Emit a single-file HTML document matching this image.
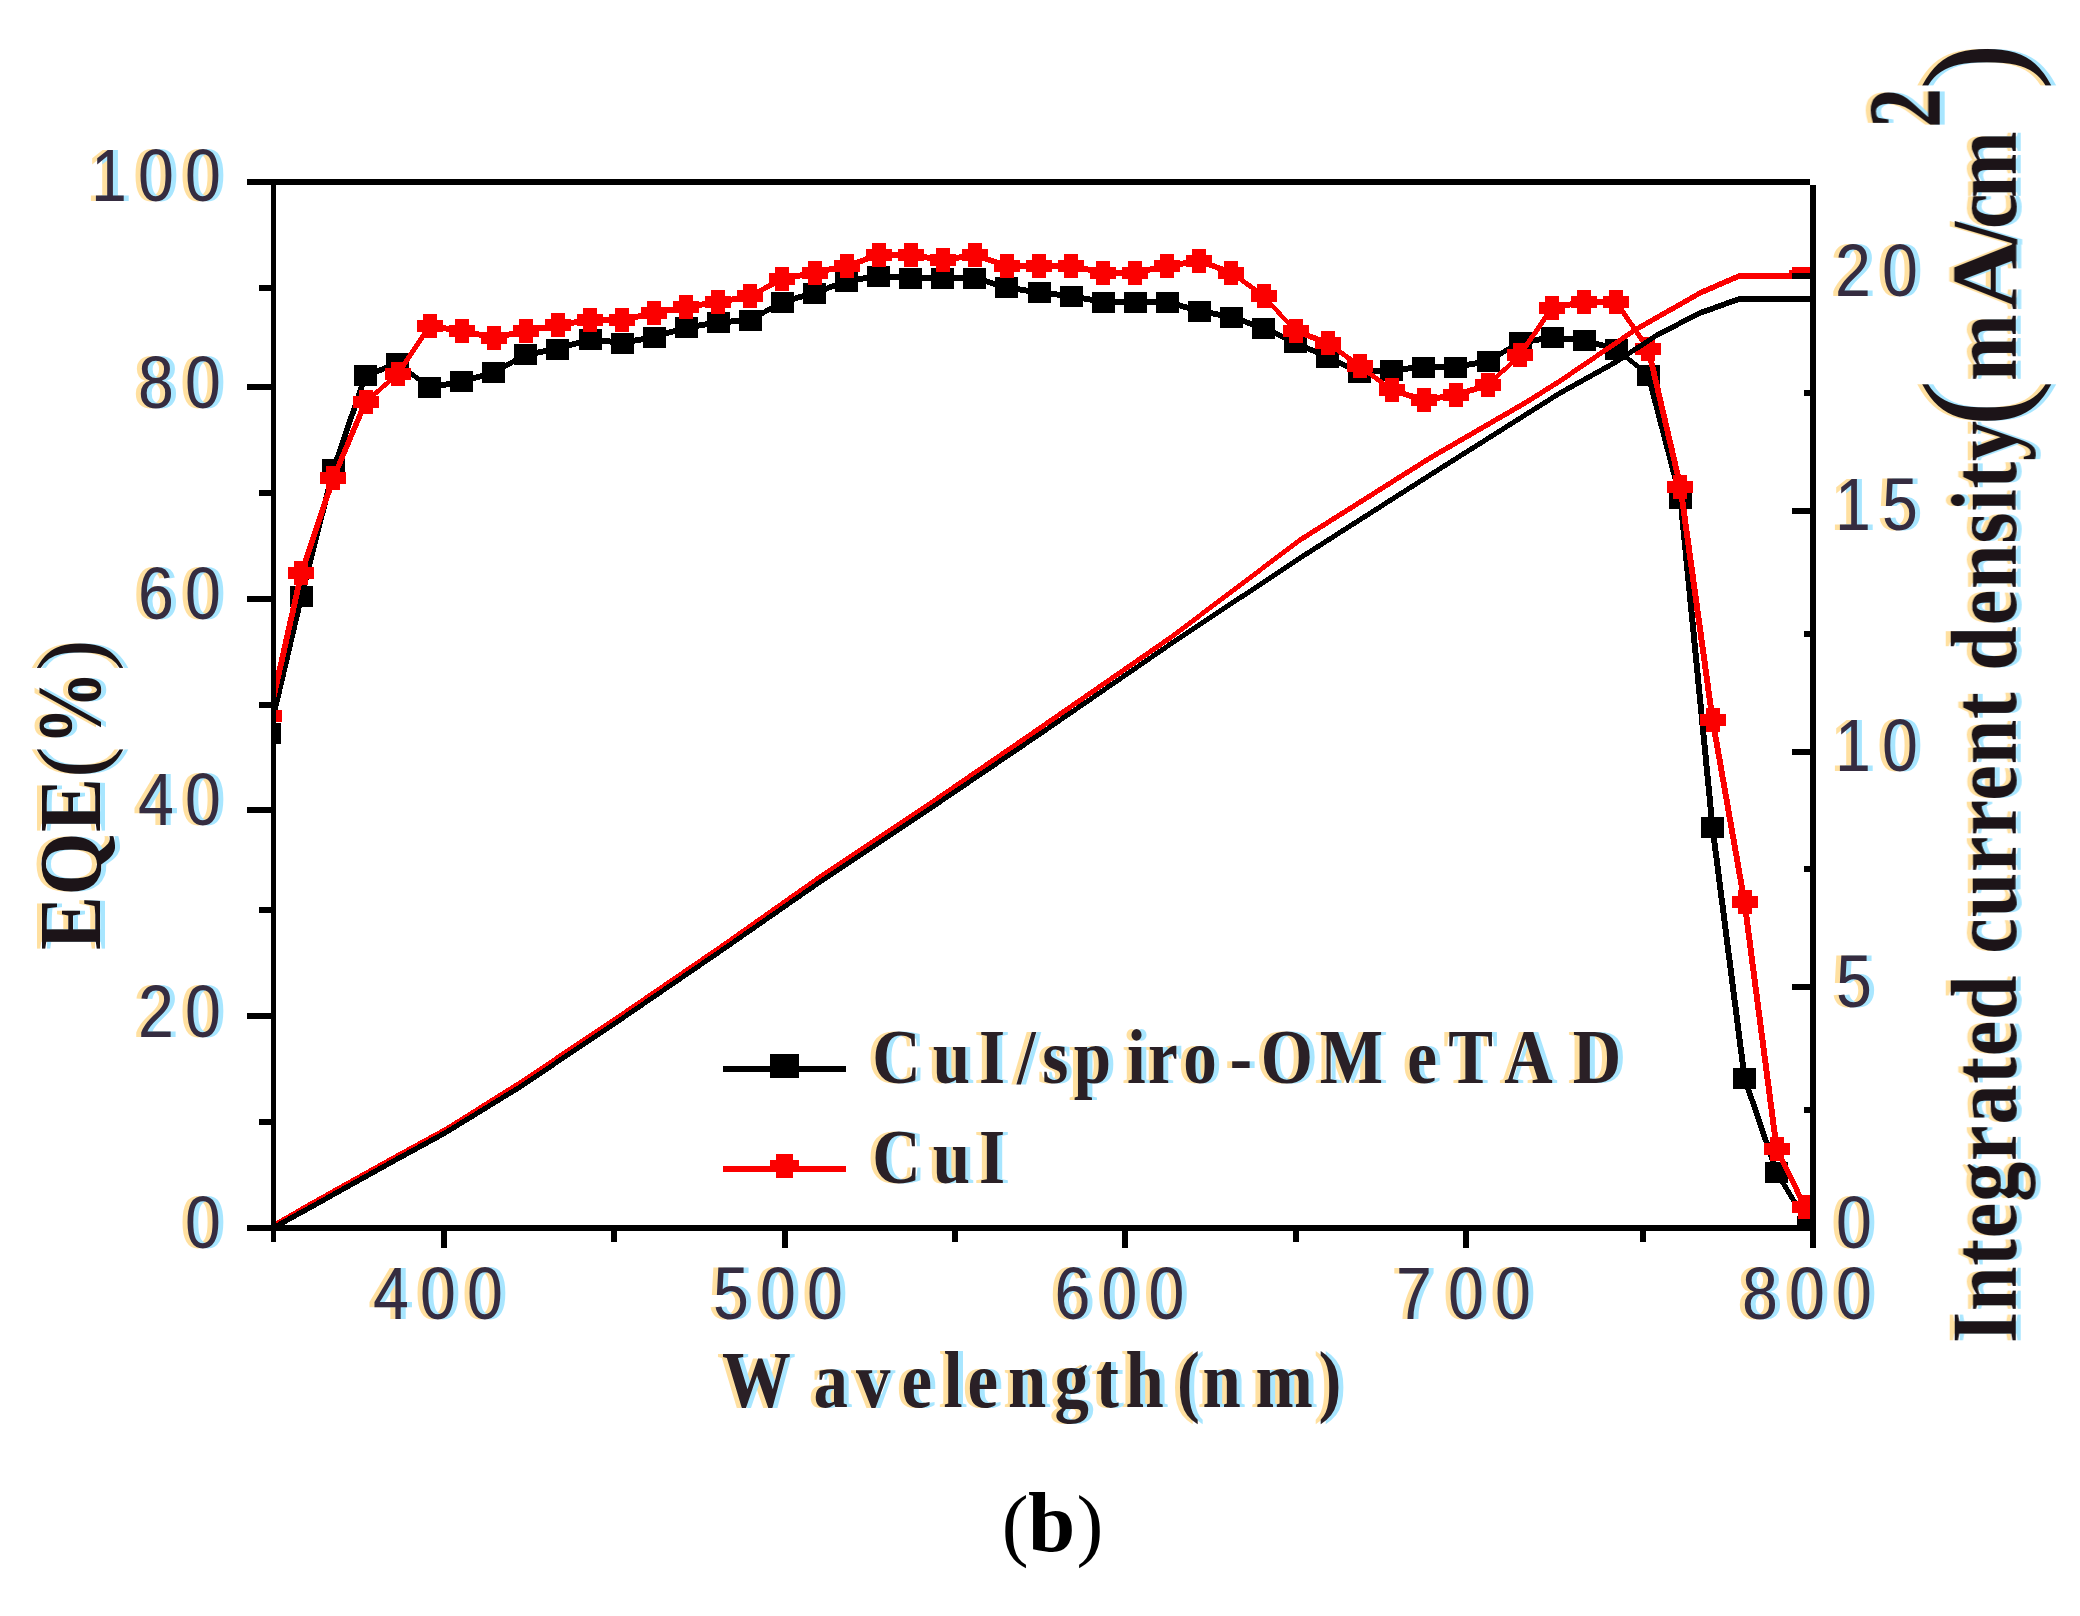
<!DOCTYPE html>
<html lang="en"><head><meta charset="utf-8"><title>EQE and integrated current density (b)</title>
<style>
html,body{margin:0;padding:0;background:#fff;}
body{width:2080px;height:1616px;overflow:hidden;}
svg{display:block;}
.tick{font-family:"Liberation Sans",sans-serif;font-size:75px;fill:#352c40;}
.ser{font-family:"Liberation Serif",serif;font-weight:bold;fill:#1c1418;}
.hz{fill:#2a2026;}
.cap{font-family:"Liberation Serif",serif;fill:#000;}
</style></head><body>
<svg width="2080" height="1616" viewBox="0 0 2080 1616">
<rect x="0" y="0" width="2080" height="1616" fill="#fff"/>
<defs><filter id="ct" x="-6%" y="-6%" width="112%" height="112%" color-interpolation-filters="sRGB"><feFlood flood-color="#ffe0a0" result="w"/><feComposite in="w" in2="SourceAlpha" operator="in" result="wm"/><feOffset in="wm" dx="-5" dy="0" result="wo"/><feFlood flood-color="#a8e6ff" result="c"/><feComposite in="c" in2="SourceAlpha" operator="in" result="cm"/><feOffset in="cm" dx="5" dy="0" result="co"/><feMerge><feMergeNode in="wo"/><feMergeNode in="co"/><feMergeNode in="SourceGraphic"/></feMerge></filter></defs>
<defs><clipPath id="plot"><rect x="273" y="182" width="1540" height="1046"/></clipPath></defs>
<g shape-rendering="crispEdges" clip-path="url(#plot)">
<path fill="#000" d="M266.3 733.0L298.4 596.0L304.4 596.0L272.3 733.0ZM298.4 596.0L330.4 469.5L336.4 469.5L304.4 596.0ZM330.4 469.5L362.5 375.5L368.5 375.5L336.4 469.5ZM365.5 372.5L397.6 360.5L397.6 366.5L365.5 378.5ZM397.6 360.5L429.6 384.5L429.6 390.5L397.6 366.5ZM429.6 384.5L461.7 378.5L461.7 384.5L429.6 390.5ZM461.7 378.5L493.8 369.5L493.8 375.5L461.7 384.5ZM493.8 369.5L525.9 351.5L525.9 357.5L493.8 375.5ZM525.9 351.5L557.9 346.0L557.9 352.0L525.9 357.5ZM557.9 346.0L590.0 336.0L590.0 342.0L557.9 352.0ZM590.0 336.0L622.1 340.0L622.1 346.0L590.0 342.0ZM622.1 340.0L654.1 334.0L654.1 340.0L622.1 346.0ZM654.1 334.0L686.2 324.5L686.2 330.5L654.1 340.0ZM686.2 324.5L718.3 319.5L718.3 325.5L686.2 330.5ZM718.3 319.5L750.4 317.0L750.4 323.0L718.3 325.5ZM750.4 317.0L782.4 299.0L782.4 305.0L750.4 323.0ZM782.4 299.0L814.5 290.0L814.5 296.0L782.4 305.0ZM814.5 290.0L846.6 278.0L846.6 284.0L814.5 296.0ZM846.6 278.0L878.6 273.0L878.6 279.0L846.6 284.0ZM878.6 273.0L910.7 275.0L910.7 281.0L878.6 279.0ZM910.7 275.0L942.8 275.0L942.8 281.0L910.7 281.0ZM942.8 275.0L974.8 275.0L974.8 281.0L942.8 281.0ZM974.8 275.0L1006.9 284.5L1006.9 290.5L974.8 281.0ZM1006.9 284.5L1039.0 289.5L1039.0 295.5L1006.9 290.5ZM1039.0 289.5L1071.0 293.0L1071.0 299.0L1039.0 295.5ZM1071.0 293.0L1103.1 299.0L1103.1 305.0L1071.0 299.0ZM1103.1 299.0L1135.2 299.0L1135.2 305.0L1103.1 305.0ZM1135.2 299.0L1167.3 299.0L1167.3 305.0L1135.2 305.0ZM1167.3 299.0L1199.3 308.0L1199.3 314.0L1167.3 305.0ZM1199.3 308.0L1231.4 314.0L1231.4 320.0L1199.3 314.0ZM1231.4 314.0L1263.5 325.0L1263.5 331.0L1231.4 320.0ZM1263.5 325.0L1295.5 339.5L1295.5 345.5L1263.5 331.0ZM1295.5 339.5L1327.6 354.5L1327.6 360.5L1295.5 345.5ZM1327.6 354.5L1359.7 369.0L1359.7 375.0L1327.6 360.5ZM1359.7 369.0L1391.8 367.0L1391.8 373.0L1359.7 375.0ZM1391.8 367.0L1423.8 364.0L1423.8 370.0L1391.8 373.0ZM1423.8 364.0L1455.9 364.0L1455.9 370.0L1423.8 370.0ZM1455.9 364.0L1488.0 358.0L1488.0 364.0L1455.9 370.0ZM1488.0 358.0L1520.0 339.5L1520.0 345.5L1488.0 364.0ZM1520.0 339.5L1552.1 334.5L1552.1 340.5L1520.0 345.5ZM1552.1 334.5L1584.2 337.4L1584.2 343.4L1552.1 340.5ZM1584.2 337.4L1616.2 346.0L1616.2 352.0L1584.2 343.4ZM1616.2 346.0L1648.3 372.0L1648.3 378.0L1616.2 352.0ZM1645.3 375.0L1677.4 498.0L1683.4 498.0L1651.3 375.0ZM1677.4 498.0L1709.5 827.0L1715.5 827.0L1683.4 498.0ZM1709.5 827.0L1741.5 1078.0L1747.5 1078.0L1715.5 827.0ZM1741.5 1078.0L1773.6 1172.0L1779.6 1172.0L1747.5 1078.0ZM1773.6 1172.0L1805.7 1226.0L1811.7 1226.0L1779.6 1172.0Z"/>
<rect x="257.8" y="722.5" width="23" height="21" fill="#000"/>
<rect x="289.9" y="585.5" width="23" height="21" fill="#000"/>
<rect x="321.9" y="459.0" width="23" height="21" fill="#000"/>
<rect x="354.0" y="365.0" width="23" height="21" fill="#000"/>
<rect x="386.1" y="353.0" width="23" height="21" fill="#000"/>
<rect x="418.1" y="377.0" width="23" height="21" fill="#000"/>
<rect x="450.2" y="371.0" width="23" height="21" fill="#000"/>
<rect x="482.3" y="362.0" width="23" height="21" fill="#000"/>
<rect x="514.4" y="344.0" width="23" height="21" fill="#000"/>
<rect x="546.4" y="338.5" width="23" height="21" fill="#000"/>
<rect x="578.5" y="328.5" width="23" height="21" fill="#000"/>
<rect x="610.6" y="332.5" width="23" height="21" fill="#000"/>
<rect x="642.6" y="326.5" width="23" height="21" fill="#000"/>
<rect x="674.7" y="317.0" width="23" height="21" fill="#000"/>
<rect x="706.8" y="312.0" width="23" height="21" fill="#000"/>
<rect x="738.9" y="309.5" width="23" height="21" fill="#000"/>
<rect x="770.9" y="291.5" width="23" height="21" fill="#000"/>
<rect x="803.0" y="282.5" width="23" height="21" fill="#000"/>
<rect x="835.1" y="270.5" width="23" height="21" fill="#000"/>
<rect x="867.1" y="265.5" width="23" height="21" fill="#000"/>
<rect x="899.2" y="267.5" width="23" height="21" fill="#000"/>
<rect x="931.3" y="267.5" width="23" height="21" fill="#000"/>
<rect x="963.3" y="267.5" width="23" height="21" fill="#000"/>
<rect x="995.4" y="277.0" width="23" height="21" fill="#000"/>
<rect x="1027.5" y="282.0" width="23" height="21" fill="#000"/>
<rect x="1059.5" y="285.5" width="23" height="21" fill="#000"/>
<rect x="1091.6" y="291.5" width="23" height="21" fill="#000"/>
<rect x="1123.7" y="291.5" width="23" height="21" fill="#000"/>
<rect x="1155.8" y="291.5" width="23" height="21" fill="#000"/>
<rect x="1187.8" y="300.5" width="23" height="21" fill="#000"/>
<rect x="1219.9" y="306.5" width="23" height="21" fill="#000"/>
<rect x="1252.0" y="317.5" width="23" height="21" fill="#000"/>
<rect x="1284.0" y="332.0" width="23" height="21" fill="#000"/>
<rect x="1316.1" y="347.0" width="23" height="21" fill="#000"/>
<rect x="1348.2" y="361.5" width="23" height="21" fill="#000"/>
<rect x="1380.2" y="359.5" width="23" height="21" fill="#000"/>
<rect x="1412.3" y="356.5" width="23" height="21" fill="#000"/>
<rect x="1444.4" y="356.5" width="23" height="21" fill="#000"/>
<rect x="1476.5" y="350.5" width="23" height="21" fill="#000"/>
<rect x="1508.5" y="332.0" width="23" height="21" fill="#000"/>
<rect x="1540.6" y="327.0" width="23" height="21" fill="#000"/>
<rect x="1572.7" y="329.9" width="23" height="21" fill="#000"/>
<rect x="1604.7" y="338.5" width="23" height="21" fill="#000"/>
<rect x="1636.8" y="364.5" width="23" height="21" fill="#000"/>
<rect x="1668.9" y="487.5" width="23" height="21" fill="#000"/>
<rect x="1701.0" y="816.5" width="23" height="21" fill="#000"/>
<rect x="1733.0" y="1067.5" width="23" height="21" fill="#000"/>
<rect x="1765.1" y="1161.5" width="23" height="21" fill="#000"/>
<rect x="1797.2" y="1215.5" width="23" height="21" fill="#000"/>
<path fill="#fb0000" d="M266.3 716.0L298.4 573.0L304.4 573.0L272.3 716.0ZM298.4 573.0L330.4 478.0L336.4 478.0L304.4 573.0ZM330.4 478.0L362.5 402.0L368.5 402.0L336.4 478.0ZM365.5 399.0L397.6 371.0L397.6 377.0L365.5 405.0ZM394.6 374.0L426.6 326.0L432.6 326.0L400.6 374.0ZM429.6 323.0L461.7 328.0L461.7 334.0L429.6 329.0ZM461.7 328.0L493.8 334.5L493.8 340.5L461.7 334.0ZM493.8 334.5L525.9 328.0L525.9 334.0L493.8 340.5ZM525.9 328.0L557.9 322.0L557.9 328.0L525.9 334.0ZM557.9 322.0L590.0 317.0L590.0 323.0L557.9 328.0ZM590.0 317.0L622.1 317.0L622.1 323.0L590.0 323.0ZM622.1 317.0L654.1 310.0L654.1 316.0L622.1 323.0ZM654.1 310.0L686.2 304.0L686.2 310.0L654.1 316.0ZM686.2 304.0L718.3 299.0L718.3 305.0L686.2 310.0ZM718.3 299.0L750.4 293.0L750.4 299.0L718.3 305.0ZM750.4 293.0L782.4 276.0L782.4 282.0L750.4 299.0ZM782.4 276.0L814.5 269.5L814.5 275.5L782.4 282.0ZM814.5 269.5L846.6 263.0L846.6 269.0L814.5 275.5ZM846.6 263.0L878.6 252.0L878.6 258.0L846.6 269.0ZM878.6 252.0L910.7 252.0L910.7 258.0L878.6 258.0ZM910.7 252.0L942.8 257.0L942.8 263.0L910.7 258.0ZM942.8 257.0L974.8 252.0L974.8 258.0L942.8 263.0ZM974.8 252.0L1006.9 263.0L1006.9 269.0L974.8 258.0ZM1006.9 263.0L1039.0 263.0L1039.0 269.0L1006.9 269.0ZM1039.0 263.0L1071.0 263.0L1071.0 269.0L1039.0 269.0ZM1071.0 263.0L1103.1 269.5L1103.1 275.5L1071.0 269.0ZM1103.1 269.5L1135.2 269.5L1135.2 275.5L1103.1 275.5ZM1135.2 269.5L1167.3 263.0L1167.3 269.0L1135.2 275.5ZM1167.3 263.0L1199.3 258.0L1199.3 264.0L1167.3 269.0ZM1199.3 258.0L1231.4 269.5L1231.4 275.5L1199.3 264.0ZM1231.4 269.5L1263.5 293.0L1263.5 299.0L1231.4 275.5ZM1260.5 296.0L1292.5 331.0L1298.5 331.0L1266.5 296.0ZM1295.5 328.0L1327.6 340.0L1327.6 346.0L1295.5 334.0ZM1327.6 340.0L1359.7 363.0L1359.7 369.0L1327.6 346.0ZM1359.7 363.0L1391.8 387.0L1391.8 393.0L1359.7 369.0ZM1391.8 387.0L1423.8 397.0L1423.8 403.0L1391.8 393.0ZM1423.8 397.0L1455.9 392.0L1455.9 398.0L1423.8 403.0ZM1455.9 392.0L1488.0 382.0L1488.0 388.0L1455.9 398.0ZM1488.0 382.0L1520.0 352.0L1520.0 358.0L1488.0 388.0ZM1517.0 355.0L1549.1 307.5L1555.1 307.5L1523.0 355.0ZM1552.1 304.5L1584.2 299.0L1584.2 305.0L1552.1 310.5ZM1584.2 299.0L1616.2 299.0L1616.2 305.0L1584.2 305.0ZM1613.2 302.0L1645.3 349.0L1651.3 349.0L1619.2 302.0ZM1645.3 349.0L1677.4 486.5L1683.4 486.5L1651.3 349.0ZM1677.4 486.5L1709.5 719.5L1715.5 719.5L1683.4 486.5ZM1709.5 719.5L1741.5 902.0L1747.5 902.0L1715.5 719.5ZM1741.5 902.0L1773.6 1148.5L1779.6 1148.5L1747.5 902.0ZM1773.6 1148.5L1802.0 1207.0L1808.0 1207.0L1779.6 1148.5Z"/>
<path fill="#fb0000" d="M262.3 704.0h14v6h6v12h-6v6h-14v-6h-6v-12h6z"/>
<path fill="#fb0000" d="M294.4 561.0h14v6h6v12h-6v6h-14v-6h-6v-12h6z"/>
<path fill="#fb0000" d="M326.4 466.0h14v6h6v12h-6v6h-14v-6h-6v-12h6z"/>
<path fill="#fb0000" d="M358.5 390.0h14v6h6v12h-6v6h-14v-6h-6v-12h6z"/>
<path fill="#fb0000" d="M390.6 362.0h14v6h6v12h-6v6h-14v-6h-6v-12h6z"/>
<path fill="#fb0000" d="M422.6 314.0h14v6h6v12h-6v6h-14v-6h-6v-12h6z"/>
<path fill="#fb0000" d="M454.7 319.0h14v6h6v12h-6v6h-14v-6h-6v-12h6z"/>
<path fill="#fb0000" d="M486.8 325.5h14v6h6v12h-6v6h-14v-6h-6v-12h6z"/>
<path fill="#fb0000" d="M518.9 319.0h14v6h6v12h-6v6h-14v-6h-6v-12h6z"/>
<path fill="#fb0000" d="M550.9 313.0h14v6h6v12h-6v6h-14v-6h-6v-12h6z"/>
<path fill="#fb0000" d="M583.0 308.0h14v6h6v12h-6v6h-14v-6h-6v-12h6z"/>
<path fill="#fb0000" d="M615.1 308.0h14v6h6v12h-6v6h-14v-6h-6v-12h6z"/>
<path fill="#fb0000" d="M647.1 301.0h14v6h6v12h-6v6h-14v-6h-6v-12h6z"/>
<path fill="#fb0000" d="M679.2 295.0h14v6h6v12h-6v6h-14v-6h-6v-12h6z"/>
<path fill="#fb0000" d="M711.3 290.0h14v6h6v12h-6v6h-14v-6h-6v-12h6z"/>
<path fill="#fb0000" d="M743.4 284.0h14v6h6v12h-6v6h-14v-6h-6v-12h6z"/>
<path fill="#fb0000" d="M775.4 267.0h14v6h6v12h-6v6h-14v-6h-6v-12h6z"/>
<path fill="#fb0000" d="M807.5 260.5h14v6h6v12h-6v6h-14v-6h-6v-12h6z"/>
<path fill="#fb0000" d="M839.6 254.0h14v6h6v12h-6v6h-14v-6h-6v-12h6z"/>
<path fill="#fb0000" d="M871.6 243.0h14v6h6v12h-6v6h-14v-6h-6v-12h6z"/>
<path fill="#fb0000" d="M903.7 243.0h14v6h6v12h-6v6h-14v-6h-6v-12h6z"/>
<path fill="#fb0000" d="M935.8 248.0h14v6h6v12h-6v6h-14v-6h-6v-12h6z"/>
<path fill="#fb0000" d="M967.8 243.0h14v6h6v12h-6v6h-14v-6h-6v-12h6z"/>
<path fill="#fb0000" d="M999.9 254.0h14v6h6v12h-6v6h-14v-6h-6v-12h6z"/>
<path fill="#fb0000" d="M1032.0 254.0h14v6h6v12h-6v6h-14v-6h-6v-12h6z"/>
<path fill="#fb0000" d="M1064.0 254.0h14v6h6v12h-6v6h-14v-6h-6v-12h6z"/>
<path fill="#fb0000" d="M1096.1 260.5h14v6h6v12h-6v6h-14v-6h-6v-12h6z"/>
<path fill="#fb0000" d="M1128.2 260.5h14v6h6v12h-6v6h-14v-6h-6v-12h6z"/>
<path fill="#fb0000" d="M1160.3 254.0h14v6h6v12h-6v6h-14v-6h-6v-12h6z"/>
<path fill="#fb0000" d="M1192.3 249.0h14v6h6v12h-6v6h-14v-6h-6v-12h6z"/>
<path fill="#fb0000" d="M1224.4 260.5h14v6h6v12h-6v6h-14v-6h-6v-12h6z"/>
<path fill="#fb0000" d="M1256.5 284.0h14v6h6v12h-6v6h-14v-6h-6v-12h6z"/>
<path fill="#fb0000" d="M1288.5 319.0h14v6h6v12h-6v6h-14v-6h-6v-12h6z"/>
<path fill="#fb0000" d="M1320.6 331.0h14v6h6v12h-6v6h-14v-6h-6v-12h6z"/>
<path fill="#fb0000" d="M1352.7 354.0h14v6h6v12h-6v6h-14v-6h-6v-12h6z"/>
<path fill="#fb0000" d="M1384.8 378.0h14v6h6v12h-6v6h-14v-6h-6v-12h6z"/>
<path fill="#fb0000" d="M1416.8 388.0h14v6h6v12h-6v6h-14v-6h-6v-12h6z"/>
<path fill="#fb0000" d="M1448.9 383.0h14v6h6v12h-6v6h-14v-6h-6v-12h6z"/>
<path fill="#fb0000" d="M1481.0 373.0h14v6h6v12h-6v6h-14v-6h-6v-12h6z"/>
<path fill="#fb0000" d="M1513.0 343.0h14v6h6v12h-6v6h-14v-6h-6v-12h6z"/>
<path fill="#fb0000" d="M1545.1 295.5h14v6h6v12h-6v6h-14v-6h-6v-12h6z"/>
<path fill="#fb0000" d="M1577.2 290.0h14v6h6v12h-6v6h-14v-6h-6v-12h6z"/>
<path fill="#fb0000" d="M1609.2 290.0h14v6h6v12h-6v6h-14v-6h-6v-12h6z"/>
<path fill="#fb0000" d="M1641.3 337.0h14v6h6v12h-6v6h-14v-6h-6v-12h6z"/>
<path fill="#fb0000" d="M1673.4 474.5h14v6h6v12h-6v6h-14v-6h-6v-12h6z"/>
<path fill="#fb0000" d="M1705.5 707.5h14v6h6v12h-6v6h-14v-6h-6v-12h6z"/>
<path fill="#fb0000" d="M1737.5 890.0h14v6h6v12h-6v6h-14v-6h-6v-12h6z"/>
<path fill="#fb0000" d="M1769.6 1136.5h14v6h6v12h-6v6h-14v-6h-6v-12h6z"/>
<path fill="#fb0000" d="M1798.0 1195.0h14v6h6v12h-6v6h-14v-6h-6v-12h6z"/>
<path fill="#fb0000" d="M273.0 1223.0L307.5 1203.0L307.5 1209.0L273.0 1229.0ZM307.5 1203.0L390.0 1157.0L390.0 1163.0L307.5 1209.0ZM390.0 1157.0L445.0 1127.0L445.0 1133.0L390.0 1163.0ZM445.0 1127.0L520.0 1080.0L520.0 1086.0L445.0 1133.0ZM520.0 1080.0L625.0 1009.5L625.0 1015.5L520.0 1086.0ZM625.0 1009.5L720.0 944.5L720.0 950.5L625.0 1015.5ZM720.0 944.5L820.0 874.0L820.0 880.0L720.0 950.5ZM820.0 874.0L928.0 802.0L928.0 808.0L820.0 880.0ZM928.0 802.0L1040.0 725.0L1040.0 731.0L928.0 808.0ZM1040.0 725.0L1170.0 635.0L1170.0 641.0L1040.0 731.0ZM1170.0 635.0L1300.0 537.0L1300.0 543.0L1170.0 641.0ZM1300.0 537.0L1430.0 455.0L1430.0 461.0L1300.0 543.0ZM1430.0 455.0L1525.0 400.0L1525.0 406.0L1430.0 461.0ZM1525.0 400.0L1560.0 378.0L1560.0 384.0L1525.0 406.0ZM1560.0 378.0L1635.0 327.0L1635.0 333.0L1560.0 384.0ZM1635.0 327.0L1700.0 290.0L1700.0 296.0L1635.0 333.0ZM1700.0 290.0L1739.0 273.0L1739.0 279.0L1700.0 296.0ZM1739.0 273.0L1792.0 273.0L1792.0 279.0L1739.0 279.0ZM1789.0 276.0L1789.0 270.0L1795.0 270.0L1795.0 276.0ZM1792.0 267.0L1812.0 267.0L1812.0 273.0L1792.0 273.0Z"/>
<path fill="#000" d="M273.0 1225.0L307.5 1206.0L307.5 1212.0L273.0 1231.0ZM307.5 1206.0L390.0 1160.0L390.0 1166.0L307.5 1212.0ZM390.0 1160.0L445.0 1130.0L445.0 1136.0L390.0 1166.0ZM445.0 1130.0L520.0 1084.0L520.0 1090.0L445.0 1136.0ZM520.0 1084.0L625.0 1013.5L625.0 1019.5L520.0 1090.0ZM625.0 1013.5L720.0 948.5L720.0 954.5L625.0 1019.5ZM720.0 948.5L820.0 879.0L820.0 885.0L720.0 954.5ZM820.0 879.0L928.0 807.0L928.0 813.0L820.0 885.0ZM928.0 807.0L1040.0 731.0L1040.0 737.0L928.0 813.0ZM1040.0 731.0L1175.0 638.0L1175.0 644.0L1040.0 737.0ZM1175.0 638.0L1300.0 555.0L1300.0 561.0L1175.0 644.0ZM1300.0 555.0L1430.0 472.0L1430.0 478.0L1300.0 561.0ZM1430.0 472.0L1560.0 390.0L1560.0 396.0L1430.0 478.0ZM1560.0 390.0L1616.0 359.0L1616.0 365.0L1560.0 396.0ZM1616.0 359.0L1657.0 332.0L1657.0 338.0L1616.0 365.0ZM1657.0 332.0L1700.0 310.0L1700.0 316.0L1657.0 338.0ZM1700.0 310.0L1739.0 296.0L1739.0 302.0L1700.0 316.0ZM1739.0 296.0L1812.0 296.0L1812.0 302.0L1739.0 302.0Z"/>
</g>
<g fill="#000" shape-rendering="crispEdges">
<rect x="247" y="179" width="1563" height="6"/>
<rect x="247" y="1225" width="1569" height="6"/>
<rect x="271" y="185" width="5" height="1057"/>
<rect x="1810" y="185" width="6" height="1063"/>
<rect x="247" y="384.0" width="25" height="6"/>
<rect x="247" y="596.0" width="25" height="6"/>
<rect x="247" y="806.5" width="25" height="6"/>
<rect x="247" y="1013.0" width="25" height="6"/>
<rect x="259" y="284.5" width="13" height="6"/>
<rect x="259" y="490.0" width="13" height="6"/>
<rect x="259" y="702.0" width="13" height="6"/>
<rect x="259" y="907.0" width="13" height="6"/>
<rect x="259" y="1119.0" width="13" height="6"/>
<rect x="1792" y="273.0" width="19" height="6"/>
<rect x="1792" y="508.0" width="19" height="6"/>
<rect x="1792" y="749.0" width="19" height="6"/>
<rect x="1792" y="984.0" width="19" height="6"/>
<rect x="1804" y="390.0" width="7" height="6"/>
<rect x="1804" y="631.0" width="7" height="6"/>
<rect x="1804" y="866.0" width="7" height="6"/>
<rect x="1804" y="1107.0" width="7" height="6"/>
<rect x="441.0" y="1230" width="6" height="18"/>
<rect x="782.0" y="1230" width="6" height="18"/>
<rect x="1122.0" y="1230" width="6" height="18"/>
<rect x="1463.0" y="1230" width="6" height="18"/>
<rect x="611.0" y="1230" width="6" height="12"/>
<rect x="952.0" y="1230" width="6" height="12"/>
<rect x="1293.0" y="1230" width="6" height="12"/>
<rect x="1639.5" y="1230" width="6" height="12"/>
</g>
<g filter="url(#ct)">
<text class="tick" transform="scale(0.86,1)" x="105.8 160.5 215.1" y="201">100</text>
<text class="tick" transform="scale(0.86,1)" x="160.5 215.1" y="408">80</text>
<text class="tick" transform="scale(0.86,1)" x="160.5 215.1" y="619">60</text>
<text class="tick" transform="scale(0.86,1)" x="160.5 215.1" y="825">40</text>
<text class="tick" transform="scale(0.86,1)" x="160.5 215.1" y="1037">20</text>
<text class="tick" transform="scale(0.86,1)" x="215.1" y="1248">0</text>
<text class="tick" transform="scale(0.86,1)" x="433.7 488.4 543.0" y="1319">400</text>
<text class="tick" transform="scale(0.86,1)" x="829.1 883.7 938.4" y="1319">500</text>
<text class="tick" transform="scale(0.86,1)" x="1226.3 1280.9 1335.6" y="1319">600</text>
<text class="tick" transform="scale(0.86,1)" x="1623.3 1683.7 1738.4" y="1319">700</text>
<text class="tick" transform="scale(0.86,1)" x="2025.6 2080.2 2134.9" y="1319">800</text>
<text class="tick" transform="scale(0.86,1)" x="2133.7 2188.4" y="296">20</text>
<text class="tick" transform="scale(0.86,1)" x="2133.7 2188.4" y="530">15</text>
<text class="tick" transform="scale(0.86,1)" x="2133.7 2188.4" y="771">10</text>
<text class="tick" transform="scale(0.86,1)" x="2134.9" y="1007">5</text>
<text class="tick" transform="scale(0.86,1)" x="2134.9" y="1248">0</text>
</g>
<g filter="url(#ct)">
<text class="ser hz" transform="scale(0.86,1)" x="839.5 945.9 995.3 1048.3 1097.1 1125.0 1172.1 1226.2 1274.4 1308.7 1368.6 1398.3 1459.9 1533.1" y="1407" font-size="80">Wavelength(nm)</text>
<g transform="translate(100,950) rotate(-90)">
<text class="ser" x="0" y="0" font-size="81" transform="scale(1,1.11)" textLength="172" lengthAdjust="spacing">EQE</text>
<text class="ser" x="172" y="3" font-size="95" font-weight="normal" style="font-weight:normal">(</text>
<text class="ser" x="205" y="0" font-size="76" transform="scale(1,1.2)" textLength="74" lengthAdjust="spacingAndGlyphs">%</text>
<text class="ser" x="279" y="3" font-size="95" style="font-weight:normal">)</text>
</g>
<g transform="translate(2016,1343) rotate(-90)">
<text class="ser" x="0" y="0" font-size="80" transform="scale(1,1.17)" textLength="922" lengthAdjust="spacing">Integrated current density</text>
<text class="ser" x="916" y="5" font-size="142" style="font-weight:normal">(</text>
<text class="ser" y="0" font-size="80" transform="scale(1,1.17)"><tspan x="962">m</tspan><tspan x="1033" textLength="71" lengthAdjust="spacingAndGlyphs">A</tspan><tspan x="1099 1114 1145">/cm</tspan></text>
<text class="ser" x="1215" y="-59" font-size="80" transform="scale(1,1.3)">2</text>
<text class="ser" x="1253" y="5" font-size="142" style="font-weight:normal">)</text>
</g>
</g>
<g shape-rendering="crispEdges">
<rect x="723" y="1066" width="123" height="6" fill="#000"/>
<rect x="770" y="1054" width="29" height="24" fill="#000"/>
<rect x="723" y="1166" width="123" height="6" fill="#fb0000"/>
<path fill="#fb0000" d="M776 1154h17v6h6v12h-6v6h-17v-6h-6v-12h6z"/>
</g>
<g filter="url(#ct)">
<text class="ser hz" transform="scale(0.86,1)" x="1014.3 1084.5 1138.4 1182.6 1212.0 1248.5 1310.5 1334.9 1375.9 1429.9 1465.9 1534.5 1636.4 1684.1 1749.2 1828.7" y="1083" font-size="78">CuI/spiro-OMeTAD</text>
<text class="ser hz" transform="scale(0.86,1)" x="1014.3 1084.5 1138.4" y="1183" font-size="78">CuI</text>
</g>
<text class="cap" y="1551"><tspan x="1001.7" font-size="80.5">(</tspan><tspan x="1028" font-size="85" font-weight="bold">b</tspan><tspan x="1076.4" font-size="80.5">)</tspan></text>
</svg>
</body></html>
